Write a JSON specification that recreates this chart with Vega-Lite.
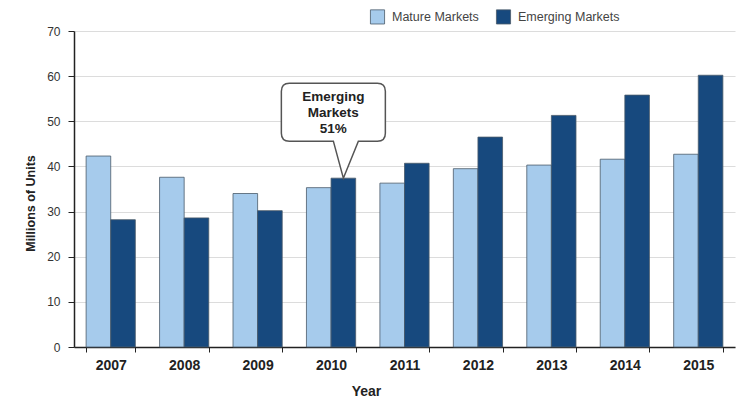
{
  "$schema": "https://vega.github.io/schema/vega-lite/v6.json",
  "autosize": "none",
  "width": 661,
  "height": 316,
  "padding": {"left": 74, "top": 31, "right": 1, "bottom": 51},
  "background": "white",
  "config": {
    "view": {"stroke": null},
    "font": "Liberation Sans"
  },
  "layer": [
    {
      "data": {
        "values": [
          {"year": "2007", "market": "Mature Markets", "value": 42.3},
          {"year": "2007", "market": "Emerging Markets", "value": 28.2},
          {"year": "2008", "market": "Mature Markets", "value": 37.6},
          {"year": "2008", "market": "Emerging Markets", "value": 28.6},
          {"year": "2009", "market": "Mature Markets", "value": 34.0},
          {"year": "2009", "market": "Emerging Markets", "value": 30.2},
          {"year": "2010", "market": "Mature Markets", "value": 35.3},
          {"year": "2010", "market": "Emerging Markets", "value": 37.4},
          {"year": "2011", "market": "Mature Markets", "value": 36.3},
          {"year": "2011", "market": "Emerging Markets", "value": 40.7},
          {"year": "2012", "market": "Mature Markets", "value": 39.5},
          {"year": "2012", "market": "Emerging Markets", "value": 46.5},
          {"year": "2013", "market": "Mature Markets", "value": 40.3},
          {"year": "2013", "market": "Emerging Markets", "value": 51.3},
          {"year": "2014", "market": "Mature Markets", "value": 41.6},
          {"year": "2014", "market": "Emerging Markets", "value": 55.8},
          {"year": "2015", "market": "Mature Markets", "value": 42.7},
          {"year": "2015", "market": "Emerging Markets", "value": 60.2}
        ]
      },
      "mark": {"type": "bar", "stroke": "#4a5a6a", "strokeWidth": 0.8},
      "encoding": {
        "x": {
          "field": "year", "type": "nominal",
          "scale": {"paddingInner": 0.33, "paddingOuter": 0.165},
          "axis": {
            "title": "Year", "titleFontSize": 14, "titleFontWeight": "bold", "titleColor": "#222",
            "titleX": 292, "titleY": 44, "titleBaseline": "middle",
            "labelAngle": 0, "labelFontSize": 14, "labelFontWeight": "bold", "labelColor": "#222",
            "labelPadding": 6, "tickBand": "extent", "tickSize": 5, "tickColor": "#222",
            "domainColor": "#222", "domainWidth": 1.5, "grid": false
          }
        },
        "xOffset": {
          "field": "market", "type": "nominal",
          "scale": {"domain": ["Mature Markets", "Emerging Markets"], "paddingInner": 0, "paddingOuter": 0}
        },
        "y": {
          "field": "value", "type": "quantitative",
          "scale": {"domain": [0, 70], "nice": false},
          "axis": {
            "title": "Millions of Units", "titleFontSize": 12.5, "titleFontWeight": "bold", "titleColor": "#222",
            "titleX": -44, "titleY": 172, "titleAngle": -90, "titleAlign": "center", "titleBaseline": "middle",
            "values": [0, 10, 20, 30, 40, 50, 60, 70],
            "labelFontSize": 12, "labelColor": "#333", "labelPadding": 8,
            "tickSize": 6, "tickColor": "#222", "domainColor": "#222", "domainWidth": 1.5,
            "grid": true, "gridColor": "#dcdcdc", "gridWidth": 1.2
          }
        },
        "color": {
          "field": "market", "type": "nominal",
          "scale": {"domain": ["Mature Markets", "Emerging Markets"], "range": ["#a6cbec", "#17497e"]},
          "legend": {
            "title": null, "orient": "none", "direction": "horizontal",
            "legendX": 296, "legendY": -22,
            "symbolType": "square", "symbolSize": 200, "symbolStrokeColor": "#4a5a6a", "symbolStrokeWidth": 0.8,
            "labelFontSize": 12.5, "labelColor": "#444", "labelOffset": 7, "columnPadding": 15
          }
        }
      }
    },
    {
      "data": {"values": [{"year": "2010", "market": "Emerging Markets", "value": 37.4, "label": "Emerging\nMarkets\n51%"}]},
      "mark": {
        "type": "point", "filled": true, "fill": "white", "opacity": 1, "stroke": "#555", "strokeWidth": 1.5, "size": 4,
        "shape": "M0,0 L-10,-37 L-54,-37 Q-62,-37 -62,-45 L-62,-87 Q-62,-95 -54,-95 L34,-95 Q42,-95 42,-87 L42,-45 Q42,-37 34,-37 L15,-37 Z"
      },
      "encoding": {
        "x": {"field": "year", "type": "nominal"},
        "xOffset": {"field": "market", "type": "nominal"},
        "y": {"field": "value", "type": "quantitative"}
      }
    },
    {
      "data": {"values": [{"year": "2010", "market": "Emerging Markets", "value": 37.4, "label": "Emerging\nMarkets\n51%"}]},
      "mark": {
        "type": "text", "lineBreak": "\n", "align": "center", "baseline": "top",
        "dx": -10, "dy": -88, "fontSize": 13.5, "fontWeight": "bold", "lineHeight": 16, "color": "#222"
      },
      "encoding": {
        "x": {"field": "year", "type": "nominal"},
        "xOffset": {"field": "market", "type": "nominal"},
        "y": {"field": "value", "type": "quantitative"},
        "text": {"field": "label"}
      }
    }
  ]
}
